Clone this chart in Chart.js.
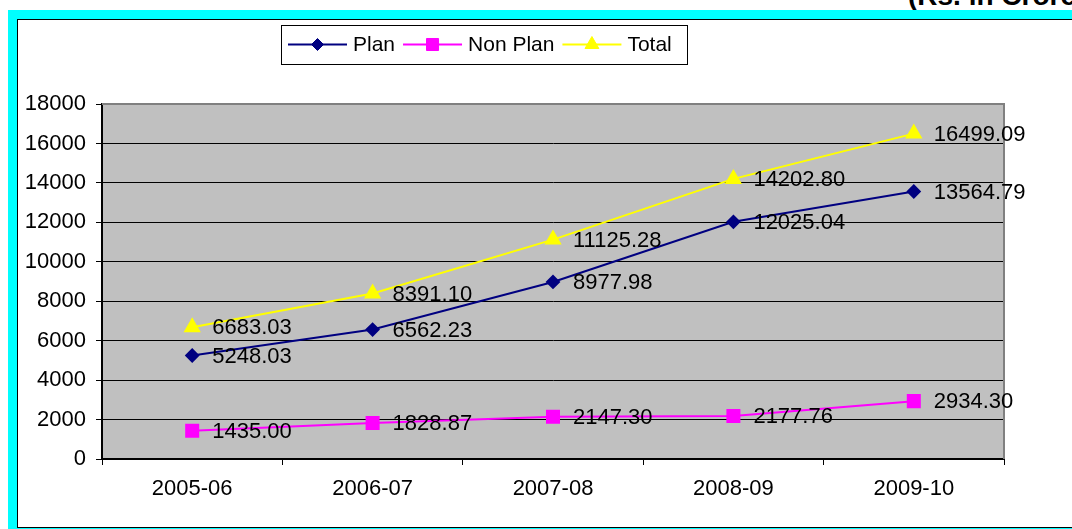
<!DOCTYPE html>
<html>
<head>
<meta charset="utf-8">
<script src="https://cdn.jsdelivr.net/npm/chart.js@4"></script>
<style>
  html, body { margin: 0; padding: 0; background: #fff; overflow: hidden; }
  body { width: 1072px; height: 529px; position: relative; font-family: 'Liberation Sans', Arial, sans-serif; }
  #unit { position: absolute; left: 908px; top: -18px; font-size: 28px; line-height: 28px; font-weight: bold; white-space: nowrap; }
  #frame { position: absolute; left: 8px; top: 10px; width: 1200px; height: 600px; background: #00ffff; }
  #panel { position: absolute; left: 17px; top: 19px; width: 1200px; height: 507px; background: #fff; border: 1px solid #000; }
  #myChart { position: absolute; left: 0; top: 0; }
</style>
</head>
<body>
<div id="unit">(Rs. in Crore)</div>
<div id="frame"></div>
<div id="panel"></div>
<canvas id="myChart" width="1072" height="529"></canvas>
<script>
const years = ['2005-06', '2006-07', '2007-08', '2008-09', '2009-10'];
const plan = [5248.03, 6562.23, 8977.98, 12025.04, 13564.79];
const nonPlan = [1435.00, 1828.87, 2147.30, 2177.76, 2934.30];
const total = [6683.03, 8391.10, 11125.28, 14202.80, 16499.09];

const FONT = "'Liberation Sans', Arial, sans-serif";

// grey plot background plus the grey top/right edge
const plotArea = {
    id: 'plotArea',
    beforeDraw(chart) {
        const { ctx, chartArea: a } = chart;
        ctx.save();
        ctx.fillStyle = '#c0c0c0';
        ctx.fillRect(a.left, a.top, a.right - a.left, a.bottom - a.top);
        ctx.restore();
    },
    beforeDatasetsDraw(chart) {
        const { ctx, chartArea: a } = chart;
        ctx.save();
        ctx.strokeStyle = '#808080';
        ctx.lineWidth = 2;
        ctx.beginPath();
        ctx.moveTo(a.left, a.top);
        ctx.lineTo(a.right, a.top);
        ctx.lineTo(a.right, a.bottom);
        ctx.stroke();
        ctx.restore();
    }
};

// value next to each point
const valueLabels = {
    id: 'valueLabels',
    afterDatasetsDraw(chart) {
        const { ctx } = chart;
        ctx.save();
        ctx.font = '22px ' + FONT;
        ctx.fillStyle = '#000';
        ctx.textAlign = 'left';
        ctx.textBaseline = 'middle';
        chart.data.datasets.forEach((ds, i) => {
            chart.getDatasetMeta(i).data.forEach((pt, j) => {
                ctx.fillText(ds.data[j].toFixed(2), pt.x + 20, pt.y + 1);
            });
        });
        ctx.restore();
    }
};

// boxed legend with line + marker samples
const boxLegend = {
    id: 'boxLegend',
    afterDraw(chart) {
        const { ctx } = chart;
        const top = 25, h = 39, left = 281, right = 687;
        const cy = top + h / 2;
        ctx.save();
        ctx.fillStyle = '#fff';
        ctx.fillRect(left, top, right - left, h);
        ctx.strokeStyle = '#000';
        ctx.lineWidth = 1;
        ctx.strokeRect(left + 0.5, top + 0.5, right - left, h);
        ctx.font = '21px ' + FONT;
        ctx.textBaseline = 'middle';
        let x = 288;
        chart.data.datasets.forEach(ds => {
            ctx.strokeStyle = ds.borderColor;
            ctx.fillStyle = ds.borderColor;
            ctx.lineWidth = 2;
            ctx.beginPath();
            ctx.moveTo(x, cy);
            ctx.lineTo(x + 59, cy);
            ctx.stroke();
            ctx.lineWidth = 1;
            Chart.helpers.drawPoint(ctx, {
                pointStyle: ds.pointStyle,
                radius: ds.pointRadius,
                borderWidth: 1
            }, x + 29.5, cy);
            ctx.fillStyle = '#000';
            ctx.fillText(ds.label, x + 65, cy + 1);
            x += 65 + ctx.measureText(ds.label).width + 8;
        });
        ctx.restore();
    }
};

function series(label, data, color, style, radius) {
    return {
        label: label,
        data: data,
        borderColor: color,
        backgroundColor: color,
        pointBackgroundColor: color,
        pointBorderColor: color,
        pointStyle: style,
        pointRadius: radius,
        pointHoverRadius: radius,
        borderWidth: 2,
        tension: 0
    };
}

const ctx = document.getElementById('myChart');
Chart.defaults.font.family = FONT;
Chart.defaults.color = '#000';

new Chart(ctx, {
    type: 'line',
    data: {
        labels: years,
        datasets: [
            series('Plan', plan, '#000080', 'rectRot', 6),
            series('Non Plan', nonPlan, '#ff00ff', 'rect', 8.5),
            series('Total', total, '#ffff00', 'triangle', 8)
        ]
    },
    options: {
        responsive: false,
        animation: false,
        layout: { padding: { top: 104, right: 68, left: 0, bottom: 0 } },
        plugins: {
            legend: { display: false },
            tooltip: { enabled: false }
        },
        scales: {
            x: {
                offset: true,
                afterFit(scale) { scale.height = 70; },
                grid: {
                    offset: true,
                    drawOnChartArea: false,
                    color: '#000',
                    tickLength: 6,
                    lineWidth: 1
                },
                border: { color: '#000', width: 2 },
                ticks: { font: { size: 22 }, padding: 11, color: '#000', maxRotation: 0 }
            },
            y: {
                min: 0,
                max: 18000,
                afterFit(scale) { scale.width = 102; },
                grid: {
                    color: c => (c.tick && c.tick.value === 18000) ? '#808080' : '#000',
                    tickColor: '#000',
                    tickLength: 6,
                    lineWidth: 1
                },
                border: { color: '#000', width: 2 },
                ticks: {
                    stepSize: 2000,
                    font: { size: 22 },
                    padding: 10,
                    color: '#000',
                    callback: v => String(v)
                }
            }
        }
    },
    plugins: [plotArea, valueLabels, boxLegend]
});
</script>
</body>
</html>
